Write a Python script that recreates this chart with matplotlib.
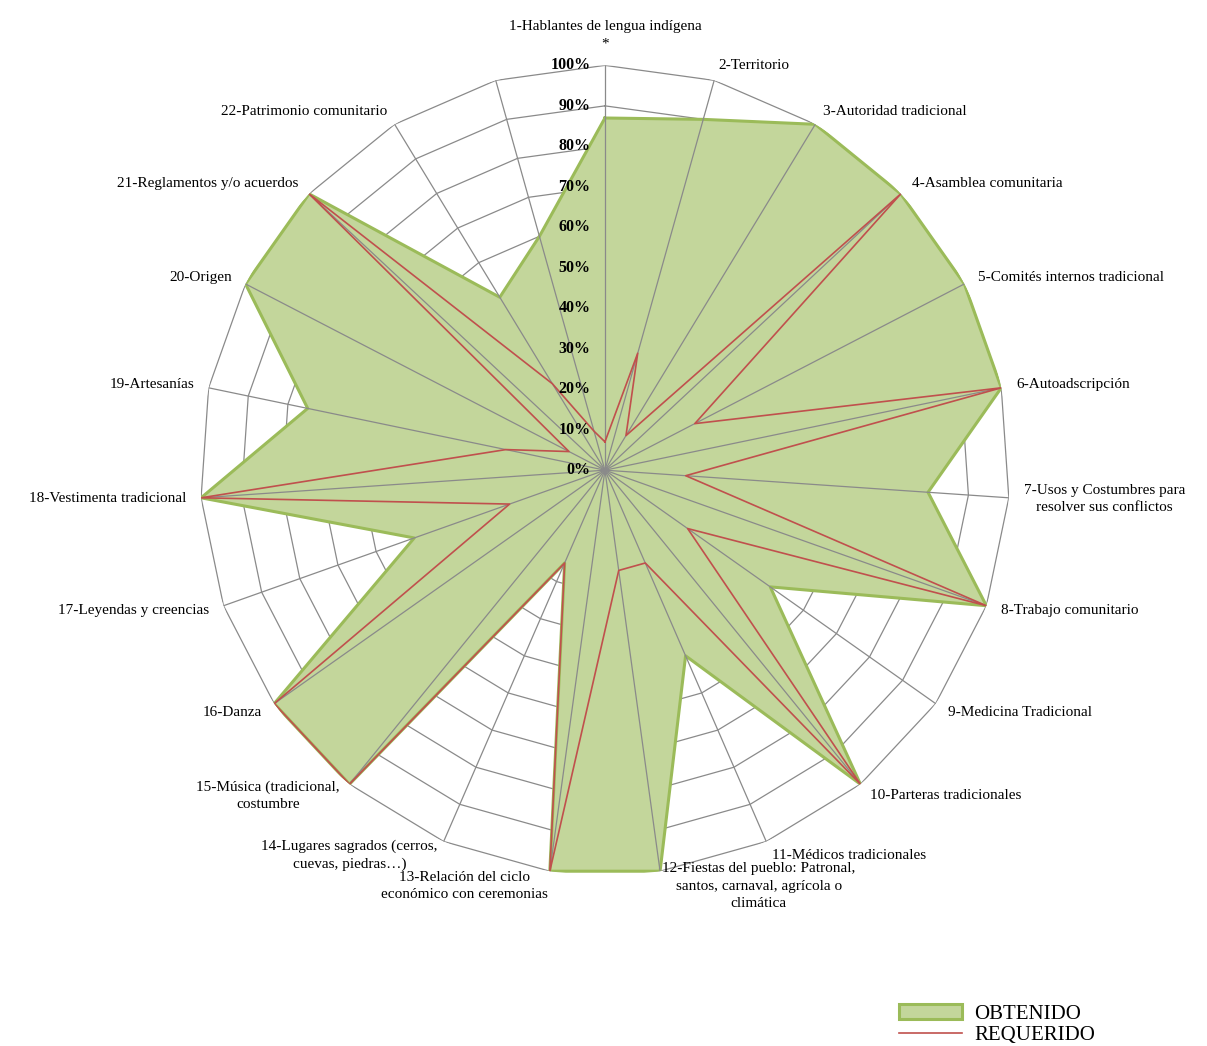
import numpy as np
import matplotlib
matplotlib.use("Agg")
import matplotlib.pyplot as plt
from matplotlib.patches import Patch
from matplotlib.lines import Line2D

categories = [
    "1-Hablantes de lengua indígena\n*",
    "2-Territorio",
    "3-Autoridad tradicional",
    "4-Asamblea comunitaria",
    "5-Comités internos tradicional",
    "6-Autoadscripción",
    "7-Usos y Costumbres para\nresolver sus conflictos",
    "8-Trabajo comunitario",
    "9-Medicina Tradicional",
    "10-Parteras tradicionales",
    "11-Médicos tradicionales",
    "12-Fiestas del pueblo: Patronal,\nsantos, carnaval, agrícola o\nclimática",
    "13-Relación del ciclo\neconómico con ceremonias",
    "14-Lugares sagrados (cerros,\ncuevas, piedras…)",
    "15-Música (tradicional,\ncostumbre",
    "16-Danza",
    "17-Leyendas y creencias",
    "18-Vestimenta tradicional",
    "19-Artesanías",
    "20-Origen",
    "21-Reglamentos y/o acuerdos",
    "22-Patrimonio comunitario",
    "",
]
obtenido = [87, 90, 100, 100, 100, 100, 80, 100, 50, 100, 50, 100,
            100, 25, 100, 100, 50, 100, 75, 100, 100, 50, 60]
requerido = [7, 30, 10, 100, 25, 100, 20, 100, 25, 100, 25, 25,
             100, 25, 100, 100, 25, 100, 25, 10, 100, 25, 10]
levels = [0, 10, 20, 30, 40, 50, 60, 70, 80, 90, 100]

serif = "Liberation Serif"
grid_col = "#8a8a8a"
fill_col = "#c3d69b"
edge_col = "#9bbb59"
red_col = "#c0504d"

n = len(categories)
theta = np.arange(n) * 2 * np.pi / n
theta_c = np.append(theta, theta[0])

fig = plt.figure(figsize=(12.07, 10.46), dpi=100)
ax = fig.add_axes([0.1657, 0.1635, 0.671, 0.774], projection="polar")
ax.set_theta_offset(np.pi / 2)
ax.set_theta_direction(-1)
ax.set_ylim(0, 100)
ax.grid(False)
ax.spines["polar"].set_visible(False)
ax.set_xticks([])
ax.set_yticks([])
ax.patch.set_alpha(0)

# polygon rings (behind the fill)
for lv in levels[1:]:
    ax.plot(theta_c, [lv] * (n + 1), color=grid_col, lw=0.9, zorder=1)

# obtenido area
ob = np.append(obtenido, obtenido[0])
ax.fill(theta_c, ob, color=fill_col, zorder=2)
ax.plot(theta_c, ob, color=edge_col, lw=2.2, zorder=2.5)

# spokes on top of the fill
for t in theta:
    ax.plot([t, t], [0, 100], color=grid_col, lw=0.9, zorder=3)

# requerido line
rq = np.append(requerido, requerido[0])
ax.plot(theta_c, rq, color=red_col, lw=1.2, zorder=4)

# radial labels
for lv in levels:
    ax.annotate(f"{lv}%", xy=(0, lv), xytext=(-10.5, 0), textcoords="offset points",
                ha="right", va="center", fontsize=11.5, fontweight="bold",
                family=serif, zorder=5)

# category labels
for t, lab in zip(theta, categories):
    s, c = np.sin(t), np.cos(t)
    ha = "left" if s > 0.01 else ("right" if s < -0.01 else "center")
    va = "bottom" if c > 0.99 else "center"
    ax.annotate(lab, xy=(t, 100), xytext=(10.8 * s, 10.8 * c), textcoords="offset points",
                ha=ha, va=va, multialignment="center", fontsize=11,
                linespacing=1.45, family=serif, annotation_clip=False)

handles = [Patch(facecolor=fill_col, edgecolor=edge_col, linewidth=2.2),
           Line2D([0], [0], color=red_col, lw=1.2)]
fig.legend(handles, ["OBTENIDO", "REQUERIDO"], loc="upper left",
           bbox_to_anchor=(899 / 1207, 1 - 1004 / 1046), frameon=False,
           prop={"family": serif, "size": 15}, handlelength=3.0,
           handletextpad=0.6, labelspacing=0.1, borderaxespad=0, borderpad=0)

fig.savefig("out.png", dpi=100)
